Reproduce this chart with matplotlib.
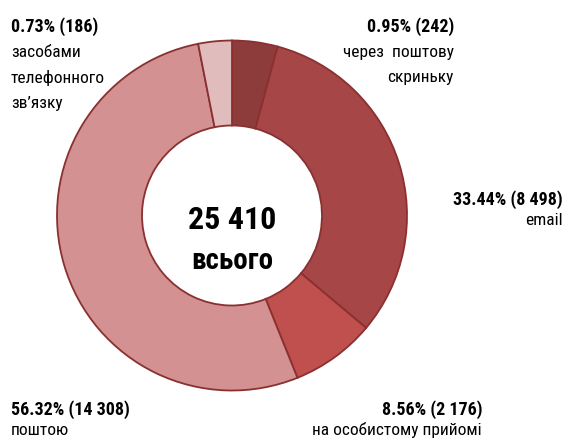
import matplotlib
matplotlib.use("Agg")
import matplotlib.pyplot as plt

# ---- data ----
categories = ["через  поштову\nскриньку", "email", "на особистому прийомі", "поштою",
              "засобами\nтелефонного\nзв\u2019язку"]
counts = [242, 8498, 2176, 14308, 186]
percents = ["0.95%", "33.44%", "8.56%", "56.32%", "0.73%"]
count_labels = ["242", "8 498", "2 176", "14 308", "186"]
# slice sizes as drawn in the reference (small slices are shown enlarged), in % of the ring
shown_share = [4.2, 31.9, 7.8, 53.0, 3.1]
total_label = "25 410"
total_caption = "всього"

colors = ["#8E3B3B", "#A64646", "#C0504E", "#D39191", "#E1BCBC"]
edge = "#8A3030"

W, H = 566, 443
fig = plt.figure(figsize=(W / 100, H / 100), dpi=100)
ax = fig.add_axes([0, 0, 1, 1])

cx, cy, R, r = 232, H - 215.5, 175, 90
ax.pie(shown_share, colors=colors, startangle=90, counterclock=False,
       center=(cx, cy), radius=R, frame=True,
       wedgeprops=dict(width=R - r, edgecolor=edge, linewidth=1.3))
ax.set_xlim(0, W)
ax.set_ylim(0, H)
ax.set_aspect("equal")
ax.axis("off")

fam = ["Liberation Sans Narrow", "Roboto Condensed", "Open Sans Condensed", "Roboto", "DejaVu Sans"]
fs = 13

def y(px):
    return H - px

# center text
ax.text(cx, y(229), total_label, ha="center", va="baseline", fontsize=23,
        fontweight="bold", family=fam)
ax.text(cx, y(269), total_caption, ha="center", va="baseline", fontsize=21,
        fontweight="bold", family=fam)

def block(x, ha, base_y, idx, gaps):
    ax.text(x, y(base_y), f"{percents[idx]} ({count_labels[idx]})", ha=ha,
            va="baseline", fontsize=fs, fontweight="bold", family=fam)
    lines = categories[idx].split("\n")
    yy = base_y
    for ln, g in zip(lines, gaps):
        yy += g
        ax.text(x, y(yy), ln, ha=ha, va="baseline", fontsize=12.5, family=fam)

block(454, "right", 32, 0, [25, 25])
block(563, "right", 205, 1, [20])
block(482, "right", 415, 2, [20])
block(11, "left", 415, 3, [20])
block(11, "left", 32, 4, [25, 25.5, 25.5])

fig.savefig("out.png", dpi=100)
